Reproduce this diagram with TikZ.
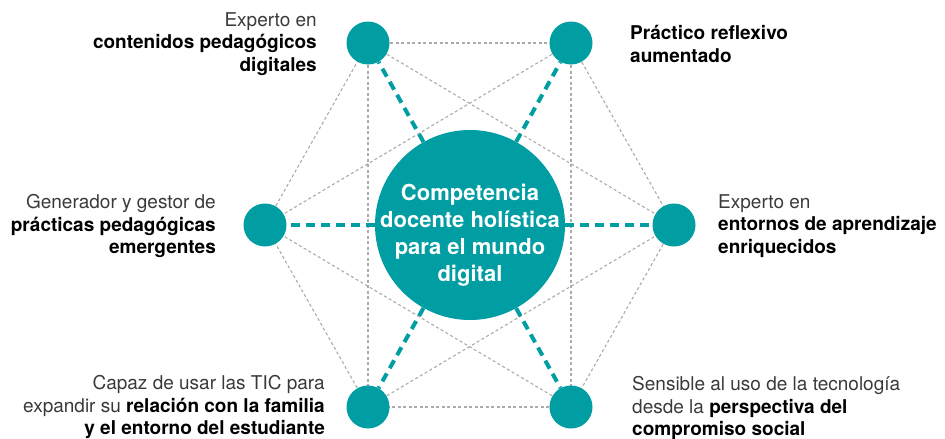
\documentclass[tikz,border=0pt]{standalone}
\usepackage{fontspec}
\setmainfont{TeX Gyre Heros}
\usetikzlibrary{backgrounds}
\definecolor{petrol}{HTML}{009DA3}
\definecolor{textgray}{HTML}{3A3A3A}
\definecolor{linkgray}{HTML}{ABABAB}
\newcommand{\bfk}[1]{\textbf{\color{black}#1}}

\begin{document}
\begin{tikzpicture}[x=1pt,y=-1pt,
    hub/.style={circle,fill=petrol,minimum size=190pt,inner sep=0pt},
    dot/.style={circle,fill=petrol,minimum size=43pt,inner sep=0pt},
    spoke/.style={petrol,line width=4pt,dash pattern=on 9pt off 6pt},
    link/.style={linkgray,line width=1.1pt,dash pattern=on 3pt off 2.5pt},
    lbl/.style={font=\fontsize{19}{22.5}\selectfont,text=textgray,inner sep=0pt}]
    \useasboundingbox (0,0) rectangle (945,439);
    % centre
    \node[hub] (c) at (470,225) {};
    \node[font=\bfseries\fontsize{22}{27}\selectfont,text=white,align=center] (ctxt) at (470,235)
        {Competencia\\docente holística\\para el mundo\\digital};
    % outer dots
    \node[dot] (tl) at (368,43) {};
    \node[dot] (tr) at (571,43) {};
    \node[dot] (l) at (265,225) {};
    \node[dot] (r) at (674,225) {};
    \node[dot] (bl) at (368,407) {};
    \node[dot] (br) at (571,407) {};
    \begin{scope}[on background layer]
        \foreach \a/\b in {tl/tr, tr/r, r/br, br/bl, bl/l, l/tl, tl/bl, tr/br, tl/r, tr/l, bl/r, br/l}
            \draw[link] (\a.center) -- (\b.center);
    \end{scope}
    \foreach \p in {tl,tr,l,r,bl,br}
        \draw[spoke] (c) -- (\p);
    % labels
    \node[lbl,align=right,anchor=east] (tltxt) at (317,44)
        {Experto en\\\bfk{contenidos pedagógicos}\\\bfk{digitales}};
    \node[lbl,align=left,anchor=west] (trtxt) at (630,44)
        {\bfk{Práctico reflexivo}\\\bfk{aumentado}};
    \node[lbl,align=right,anchor=east] (ltxt) at (216,226)
        {Generador y gestor de\\\bfk{prácticas pedagógicas}\\\bfk{emergentes}};
    \node[lbl,align=left,anchor=west] (rtxt) at (718,226)
        {Experto en\\\bfk{entornos de aprendizaje}\\\bfk{enriquecidos}};
    \node[lbl,align=right,anchor=east] (bltxt) at (325,407)
        {Capaz de usar las TIC para\\expandir su \bfk{relación con la familia}\\\bfk{y el entorno del estudiante}};
    \node[lbl,align=left,anchor=west] (brtxt) at (632,408)
        {Sensible al uso de la tecnología\\desde la \bfk{perspectiva del}\\\bfk{compromiso social}};
\end{tikzpicture}
\end{document}
